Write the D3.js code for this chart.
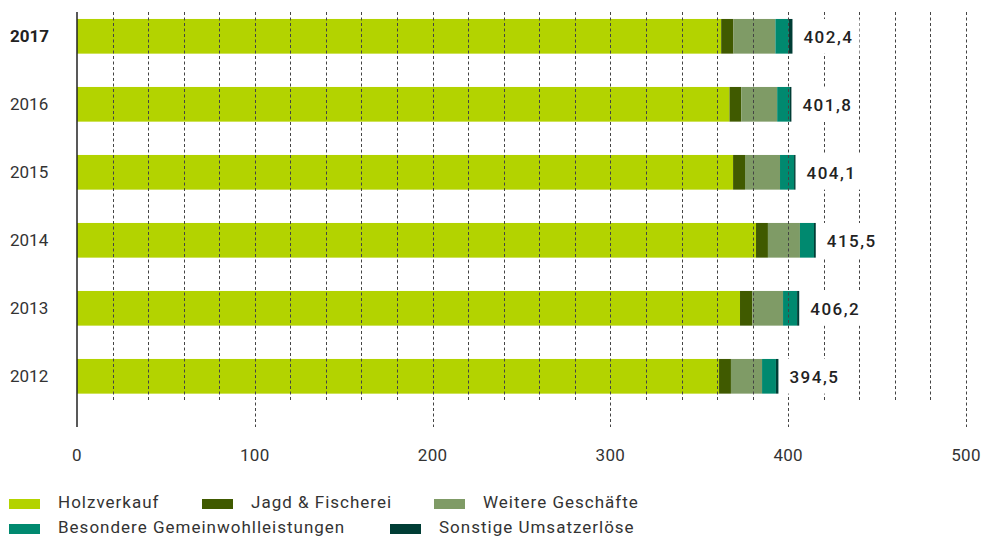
<!DOCTYPE html>
<html>
<head>
<meta charset="utf-8">
<script src="https://cdn.jsdelivr.net/npm/d3@7"></script>
<style>
  html, body { margin: 0; padding: 0; background: #fff; }
  svg { display: block; font-family: Roboto, "DejaVu Sans", sans-serif; }
</style>
</head>
<body>
<div id="chart"></div>
<script>
const years = ['2017', '2016', '2015', '2014', '2013', '2012'];
const holzverkauf = [362.3, 367.0, 369.0, 381.9, 372.9, 361.1];
const jagdFischerei = [6.9, 6.6, 6.7, 6.7, 6.9, 6.7];
const weitereGeschaefte = [23.6, 20.2, 19.7, 18.0, 17.3, 17.5];
const gemeinwohl = [7.6, 7.2, 7.9, 7.9, 7.9, 7.8];
const sonstige = [2.0, 0.8, 0.8, 1.0, 1.2, 1.4];
const totals = ['402,4', '401,8', '404,1', '415,5', '406,2', '394,5'];
const xTicks = [0, 100, 200, 300, 400, 500];

const seriesNames = ['Holzverkauf', 'Jagd & Fischerei', 'Weitere Geschäfte',
  'Besondere Gemeinwohlleistungen', 'Sonstige Umsatzerlöse'];
const seriesColors = ['#b3d300', '#405a00', '#7f9b66', '#00896f', '#003d35'];

const
  WIDTH = 984,
  HEIGHT = 537,
  CHART_LEFT = 77,
  CHART_RIGHT = 966,
  GRID_TOP = 12,
  GRID_BOTTOM_MINOR = 400,
  GRID_BOTTOM_MAJOR = 427;

const svg = d3.select('#chart')
  .append('svg')
  .attr('width', WIDTH)
  .attr('height', HEIGHT);

const xScale = d3.scaleLinear()
  .domain([0, 500])
  .range([CHART_LEFT, CHART_RIGHT]);

const yScale = d3.scaleBand()
  .domain(years)
  .range([2.3, 410.3])
  .paddingInner(0.49)
  .paddingOuter(0.245);

// stack the rows
const rows = years.map((year, i) => ({
  year,
  values: [holzverkauf[i], jagdFischerei[i], weitereGeschaefte[i], gemeinwohl[i], sonstige[i]],
  total: totals[i]
}));

const stacked = d3.stack()
  .keys([0, 1, 2, 3, 4])
  .value((d, k) => d.values[k])(rows);

const bars = svg.append('g').attr('class', 'bars');

bars.selectAll('.series')
  .data(stacked)
  .enter()
  .append('g')
  .attr('fill', (s, i) => seriesColors[i])
  .selectAll('rect')
  .data(s => s)
  .enter()
  .append('rect')
  .attr('x', d => xScale(d[0]))
  .attr('y', d => yScale(d.data.year))
  .attr('width', d => xScale(d[1]) - xScale(d[0]))
  .attr('height', yScale.bandwidth());

// dashed grid on top of bars
const gridValues = d3.range(20, 501, 20);
svg.append('g')
  .attr('class', 'grid')
  .selectAll('line')
  .data(gridValues)
  .enter()
  .append('line')
  .attr('x1', d => Math.round(xScale(d)) + 0.5)
  .attr('x2', d => Math.round(xScale(d)) + 0.5)
  .attr('y1', GRID_TOP)
  .attr('y2', d => d % 100 === 0 ? GRID_BOTTOM_MAJOR : GRID_BOTTOM_MINOR)
  .attr('stroke', '#444')
  .attr('stroke-width', 1)
  .attr('stroke-dasharray', '3,2.5');

// y axis line
svg.append('line')
  .attr('x1', xScale(0))
  .attr('x2', xScale(0))
  .attr('y1', GRID_TOP)
  .attr('y2', GRID_BOTTOM_MAJOR)
  .attr('stroke', '#222')
  .attr('stroke-width', 1.5);

// x tick labels
svg.append('g')
  .selectAll('text')
  .data(xTicks)
  .enter()
  .append('text')
  .attr('x', d => xScale(d))
  .attr('y', 461)
  .attr('text-anchor', 'middle')
  .attr('font-size', 17)
  .attr('letter-spacing', 0.3)
  .attr('fill', '#333')
  .text(d => d);

// year labels
svg.append('g')
  .selectAll('text')
  .data(years)
  .enter()
  .append('text')
  .attr('x', 10)
  .attr('y', d => yScale(d) + yScale.bandwidth() / 2 + 6)
  .attr('font-size', 17)
  .attr('font-weight', (d, i) => i === 0 ? 700 : 400)
  .attr('fill', (d, i) => i === 0 ? '#222' : '#333')
  .text(d => d);

// totals, on a white box that hides the grid behind them
const lastSeries = stacked[stacked.length - 1];
const totalLabels = svg.append('g')
  .selectAll('g')
  .data(lastSeries)
  .enter()
  .append('g');

const totalBg = totalLabels.append('rect')
  .attr('fill', '#fff');

const totalText = totalLabels.append('text')
  .attr('x', d => xScale(d[1]) + 11)
  .attr('y', d => yScale(d.data.year) + yScale.bandwidth() / 2 + 7)
  .attr('font-size', 17)
  .attr('font-weight', 500)
  .attr('letter-spacing', 1.5)
  .attr('fill', '#222')
  .text(d => d.data.total);

totalBg
  .attr('x', d => xScale(d[1]) + 1)
  .attr('y', d => yScale(d.data.year))
  .attr('width', function () {
    const t = this.parentNode.querySelector('text');
    return t.getComputedTextLength() + 16;
  })
  .attr('height', yScale.bandwidth());

// legend
const legendPos = [
  { x: 9, y: 499 }, { x: 202, y: 499 }, { x: 434, y: 499 },
  { x: 9, y: 524 }, { x: 390, y: 524 }
];

const legend = svg.append('g')
  .selectAll('g')
  .data(seriesNames)
  .enter()
  .append('g')
  .attr('transform', (d, i) => `translate(${legendPos[i].x},${legendPos[i].y})`);

legend.append('rect')
  .attr('width', 31)
  .attr('height', 10)
  .attr('fill', (d, i) => seriesColors[i]);

legend.append('text')
  .attr('x', 49)
  .attr('y', 9)
  .attr('font-size', 17)
  .attr('letter-spacing', 1)
  .attr('fill', '#333')
  .text(d => d);
</script>
</body>
</html>
